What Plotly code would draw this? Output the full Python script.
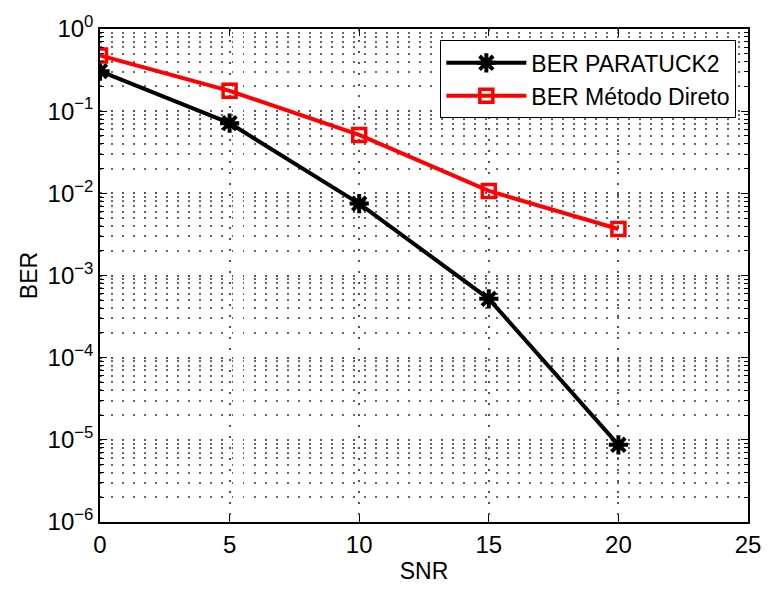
import plotly.graph_objects as go

# SNR points and bit error rates for both receivers
snr = [0, 5, 10, 15, 20]
ber_paratuck2 = [0.307, 0.0715, 0.0075, 5.2e-4, 8.7e-6]
ber_direto = [0.476, 0.177, 0.0514, 0.0107, 0.00368]

x_ticks = [0, 5, 10, 15, 20, 25]
y_exponents = [-6, -5, -4, -3, -2, -1, 0]

FONT = "Liberation Sans, Arial, sans-serif"
FS = 24

fig = go.Figure()
fig.add_trace(go.Scatter(
    x=snr, y=ber_paratuck2, mode="lines+markers", name="BER PARATUCK2",
    line=dict(color="black", width=4),
    marker=dict(symbol="asterisk-open", size=16, color="black",
                line=dict(color="black", width=4)),
))
fig.add_trace(go.Scatter(
    x=snr, y=ber_direto, mode="lines+markers", name="BER Método Direto",
    line=dict(color="#ff0000", width=4),
    marker=dict(symbol="square-open", size=13, color="#ff0000",
                line=dict(color="#ff0000", width=3.5)),
))

minor_vals = [m * 10 ** e for e in y_exponents[:-1] for m in range(2, 10)]
GRID_DASH = "1.5px,9.5px"

fig.update_layout(
    width=773, height=592,
    margin=dict(l=100, r=16, t=25, b=64),
    paper_bgcolor="white", plot_bgcolor="white",
    font=dict(family=FONT, size=FS, color="black"),
    showlegend=True,
    legend=dict(
        x=0.982, y=0.977, xanchor="right", yanchor="top",
        bgcolor="white", bordercolor="black", borderwidth=1,
        font=dict(size=23, family=FONT),
        tracegroupgap=0, itemwidth=80,
    ),
    xaxis=dict(
        range=[0, 25], tickvals=x_ticks,
        title=dict(text="SNR", font=dict(size=23), standoff=6),
        showline=True, linecolor="black", linewidth=1.5, mirror="ticks",
        ticks="inside", ticklen=7, tickcolor="black",
        showgrid=True, gridcolor="#555", griddash=GRID_DASH, gridwidth=1.5,
        zeroline=False,
    ),
    yaxis=dict(
        type="log", range=[-6, 0],
        tickvals=[10 ** e for e in y_exponents],
        ticktext=["10<sup>%s</sup>" % (str(e).replace("-", "\u2212")) for e in y_exponents],
        title=dict(text="BER", font=dict(size=23), standoff=4),
        showline=True, linecolor="black", linewidth=1.5, mirror="ticks",
        ticks="inside", ticklen=7, tickcolor="black",
        showgrid=True, gridcolor="#555", griddash=GRID_DASH, gridwidth=1.5,
        zeroline=False,
        minor=dict(tickvals=minor_vals, ticks="inside", ticklen=4,
                   tickcolor="black", showgrid=True, gridcolor="#666",
                   griddash=GRID_DASH, gridwidth=1.5),
    ),
)

fig.write_html("out.html")
